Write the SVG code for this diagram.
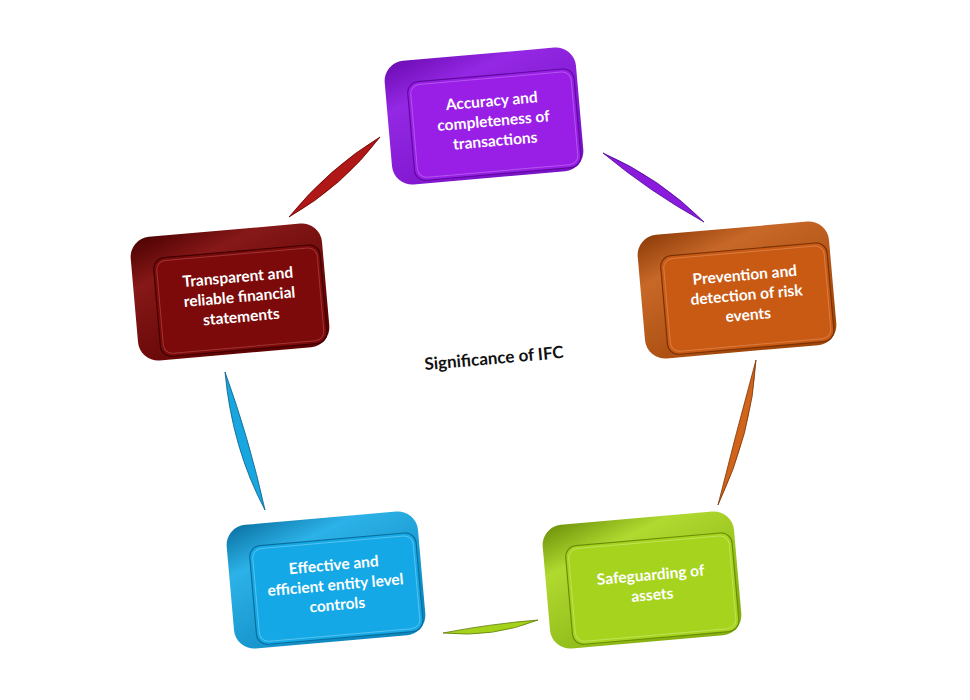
<svg xmlns="http://www.w3.org/2000/svg" width="970" height="700" viewBox="0 0 970 700">
<style>
.lbl{font-family:Lato,"Open Sans","Liberation Sans",sans-serif;font-weight:bold;font-size:15.5px;fill:#ffffff;text-anchor:middle}
.ctr{font-family:Lato,"Open Sans","Liberation Sans",sans-serif;font-weight:bold;font-size:17px;fill:#111111;text-anchor:middle}
.face{stroke-width:1.2}
.bevel{fill:none;stroke-width:1;stroke-opacity:0.5}
</style>
<defs>
<linearGradient id="gP" x1="0" y1="0" x2="0.6" y2="1"><stop offset="0" stop-color="#6a0ab0"/><stop offset="0.3" stop-color="#9428e4"/><stop offset="1" stop-color="#7a12c8"/></linearGradient>
<linearGradient id="gO" x1="0" y1="0" x2="0.6" y2="1"><stop offset="0" stop-color="#8a3a08"/><stop offset="0.3" stop-color="#c86828"/><stop offset="1" stop-color="#a04608"/></linearGradient>
<linearGradient id="gR" x1="0" y1="0" x2="0.6" y2="1"><stop offset="0" stop-color="#4a0000"/><stop offset="0.3" stop-color="#861818"/><stop offset="1" stop-color="#5e0202"/></linearGradient>
<linearGradient id="gB" x1="0" y1="0" x2="0.6" y2="1"><stop offset="0" stop-color="#0a6fa0"/><stop offset="0.3" stop-color="#2cb2e8"/><stop offset="1" stop-color="#0e88bf"/></linearGradient>
<linearGradient id="gG" x1="0" y1="0" x2="0.6" y2="1"><stop offset="0" stop-color="#6a8e08"/><stop offset="0.3" stop-color="#b0da30"/><stop offset="1" stop-color="#86b010"/></linearGradient>
</defs>

<g id="connectors">
<path d="M289,217 Q343,186 380,137 Q329,168 289,217 Z" fill="#b01818" stroke="#6a0000" stroke-width="0.8"/>
<path d="M603,153 Q660,178 704,222 Q650,192 603,153 Z" fill="#8a1adc" stroke="#4e0890" stroke-width="0.8"/>
<path d="M756,360 Q752,433 718,505 Q736,433 756,360 Z" fill="#d0641a" stroke="#7a3208" stroke-width="0.8"/>
<path d="M443,633 Q493,638 538,620 Q489,624 443,633 Z" fill="#a4d21a" stroke="#5e7a06" stroke-width="0.8"/>
<path d="M225,372 Q232,448 265,510 Q249,438 225,372 Z" fill="#18a6e0" stroke="#0a5a82" stroke-width="0.8"/>
</g>

<g id="node-accuracy" transform="translate(484,116) rotate(-5)">
<rect x="-96" y="-62" width="192" height="124" rx="20" fill="url(#gP)"/>
<rect class="face" x="-74" y="-40" width="167" height="99" rx="11" fill="#9a1fe6" stroke="#5e0a9e"/>
<rect class="bevel" x="-71" y="-37" width="161" height="93" rx="9" stroke="#c98af5"/>
<text class="lbl" x="9" y="-9">Accuracy and</text>
<text class="lbl" x="9" y="11">completeness of</text>
<text class="lbl" x="9" y="31">transactions</text>
</g>

<g id="node-prevention" transform="translate(737,290) rotate(-5)">
<rect x="-96" y="-62" width="192" height="124" rx="20" fill="url(#gO)"/>
<rect class="face" x="-74" y="-40" width="167" height="99" rx="11" fill="#c95a14" stroke="#7a3206"/>
<rect class="bevel" x="-71" y="-37" width="161" height="93" rx="9" stroke="#eaa070"/>
<text class="lbl" x="9" y="-9">Prevention and</text>
<text class="lbl" x="9" y="11">detection of risk</text>
<text class="lbl" x="9" y="31">events</text>
</g>

<g id="node-transparent" transform="translate(230,292) rotate(-5)">
<rect x="-96" y="-62" width="192" height="124" rx="20" fill="url(#gR)"/>
<rect class="face" x="-74" y="-40" width="167" height="99" rx="11" fill="#7c0a0a" stroke="#3e0000"/>
<rect class="bevel" x="-71" y="-37" width="161" height="93" rx="9" stroke="#c06060"/>
<text class="lbl" x="9" y="-9">Transparent and</text>
<text class="lbl" x="9" y="11">reliable financial</text>
<text class="lbl" x="9" y="31">statements</text>
</g>

<g id="node-effective" transform="translate(326,580) rotate(-5)">
<rect x="-96" y="-62" width="192" height="124" rx="20" fill="url(#gB)"/>
<rect class="face" x="-74" y="-40" width="167" height="99" rx="11" fill="#14a9e6" stroke="#0a6e9c"/>
<rect class="bevel" x="-71" y="-37" width="161" height="93" rx="9" stroke="#9adcf6"/>
<text class="lbl" x="9" y="-9">Effective and</text>
<text class="lbl" x="9" y="11">efficient entity level</text>
<text class="lbl" x="9" y="31">controls</text>
</g>

<g id="node-safeguarding" transform="translate(642,580) rotate(-5)">
<rect x="-96" y="-62" width="192" height="124" rx="20" fill="url(#gG)"/>
<rect class="face" x="-74" y="-40" width="167" height="99" rx="11" fill="#a6d41e" stroke="#6a8e08"/>
<rect class="bevel" x="-71" y="-37" width="161" height="93" rx="9" stroke="#dcf290"/>
<text class="lbl" x="9" y="1">Safeguarding of</text>
<text class="lbl" x="9" y="21">assets</text>
</g>

<g id="center-label" transform="translate(494,358) rotate(-5)">
<text class="ctr" x="0" y="6">Significance of IFC</text>
</g>
</svg>
